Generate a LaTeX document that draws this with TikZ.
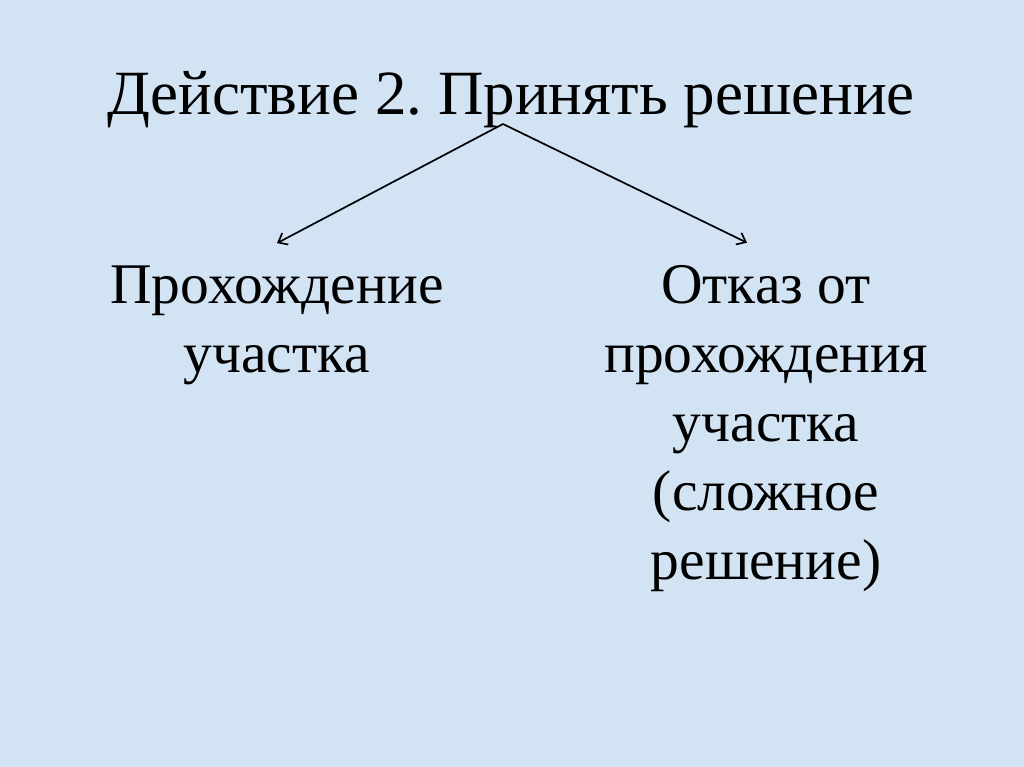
\documentclass[tikz,border=0pt]{standalone}
\usepackage{fontspec}
\setmainfont{Liberation Serif}
\usetikzlibrary{arrows.meta,positioning}
\definecolor{slidebg}{RGB}{210,227,243}
\frenchspacing

\begin{document}
\begin{tikzpicture}[
  x=1pt, y=-1pt,
  heading/.style={font=\fontsize{63}{70}\selectfont, inner sep=0pt},
  branch/.style={align=center, inner sep=0pt, font=\fontsize{57.5}{69}\selectfont},
  arrow/.style={-{Straight Barb[length=8pt,width=13pt]}, line width=1.7pt}
]
  \fill[slidebg] (0,0) rectangle (1024,767);
  \useasboundingbox (0,0) rectangle (1024,767);

  \node[heading, anchor=base] (title) at (511,115) {Действие 2. Принять решение};
  \coordinate (apex) at (503,124);

  % base anchor = baseline of the last line
  \node[branch, anchor=base] (pass) at (277,372) {Прохождение\\участка};
  \node[branch, anchor=base] (refuse) at (766,579)
    {Отказ от~\\прохождения\\участка\\(сложное\\решение)};

  \draw[arrow] (apex) -- ([yshift=22pt]pass.north);
  \draw[arrow] (apex) -- ([xshift=-19pt,yshift=22pt]refuse.north);
\end{tikzpicture}
\end{document}
